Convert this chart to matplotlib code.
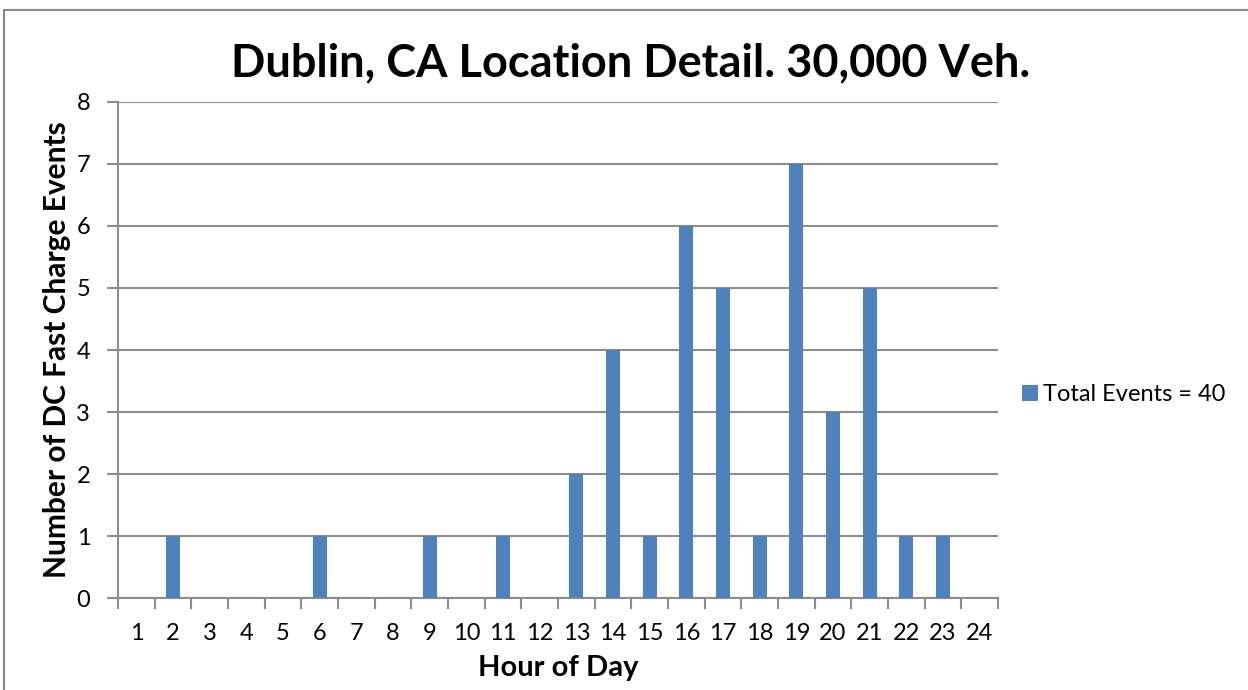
import numpy as np
import matplotlib.pyplot as plt
from matplotlib.patches import Rectangle

plt.rcParams['font.family'] = ['Lato', 'DejaVu Sans']

# data
hours = list(range(1, 25))
events = [0, 1, 0, 0, 0, 1, 0, 0, 1, 0, 1, 0, 2, 4, 1, 6, 5, 1, 7, 3, 5, 1, 1, 0]
series_name = 'Total Events = 40'
title = 'Dublin, CA Location Detail. 30,000 Veh.'

bar_color = '#4F81BD'
grid_color = '#8c8c8c'

fig = plt.figure(figsize=(12.48, 6.9), dpi=100)
ax = fig.add_axes([0.0946, 0.1333, 0.7051, 0.7189])

# outer frame of the chart object (runs off the page at right and bottom)
fig.patches.append(Rectangle((0.003, -0.05), 1.2, 1.035, transform=fig.transFigure,
                             fill=False, edgecolor='#8a8a8a', linewidth=1.5))

x = np.arange(len(hours))
ax.bar(x, events, width=0.38, color=bar_color, label=series_name, zorder=3)

ax.set_xlim(-0.5, len(hours) - 0.5)
ax.set_ylim(0, 8)
ax.set_yticks(range(0, 9))
ax.set_xticks(x)
ax.set_xticklabels([str(h) for h in hours])
ax.set_xticks(np.arange(-0.5, len(hours)), minor=True)

ax.grid(axis='y', color=grid_color, linewidth=1.5, zorder=0)
for side in ['top', 'right']:
    ax.spines[side].set_visible(False)
for side in ['left', 'bottom']:
    ax.spines[side].set_color(grid_color)
    ax.spines[side].set_linewidth(1.5)

ax.tick_params(axis='x', which='major', length=0, labelsize=17, pad=18)
ax.tick_params(axis='x', which='minor', length=8, width=1.5, color=grid_color, direction='out')
ax.tick_params(axis='y', length=8, width=1.5, color=grid_color, labelsize=17, pad=12)

ax.set_xlabel('Hour of Day', fontsize=21, fontweight='bold', labelpad=8)
ax.set_ylabel('Number of DC Fast Charge Events', fontsize=21.5, fontweight='bold', labelpad=4)

fig.suptitle(title, fontsize=32.5, fontweight='bold', x=0.505, y=0.938)

ax.legend(loc='center left', bbox_to_anchor=(1.003, 0.41), frameon=False, fontsize=17,
          handlelength=0.7, handleheight=0.7, handletextpad=0.2)

fig.savefig('out.png', dpi=100)
